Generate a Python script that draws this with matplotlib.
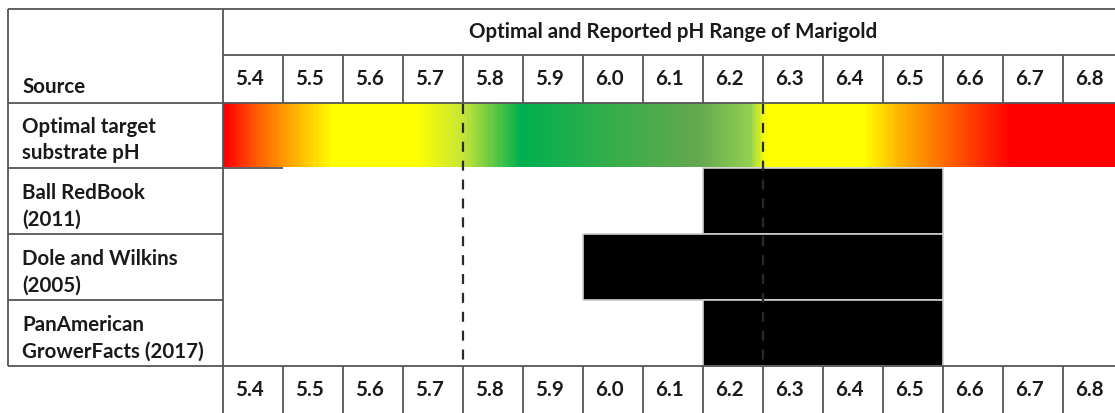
import matplotlib

matplotlib.use("Agg")
import matplotlib.pyplot as plt
import numpy as np
from matplotlib.colors import LinearSegmentedColormap

plt.rcParams["font.family"] = ["Lato", "DejaVu Sans"]

# ---------------------------------------------------------------- data
title = "Optimal and Reported pH Range of Marigold"
ph_ticks = [5.4, 5.5, 5.6, 5.7, 5.8, 5.9, 6.0, 6.1, 6.2, 6.3, 6.4, 6.5, 6.6, 6.7, 6.8]
tick_labels = [f"{v:.1f}" for v in ph_ticks]

optimal_label = "Optimal target\nsubstrate pH"
optimal_low, optimal_high = 5.8, 6.2

sources = ["Ball RedBook\n(2011)", "Dole and Wilkins\n(2005)", "PanAmerican\nGrowerFacts (2017)"]
range_low = [6.2, 6.0, 6.2]
range_high = [6.5, 6.5, 6.5]

# ---------------------------------------------------------------- layout
W, H = 1115, 413
CELL = 0.1                 # one table column = 0.1 pH
PX = CELL / 60             # pH units per pixel
x0 = ph_ticks[0]
x_left = x0 - 215 * PX     # outer left border of the source column
x_min = x0 - 223 * PX
x_max = x0 + (W - 223) * PX

y_top, y_title, y_head = 9, 55, 103
y_grad = 167
row_edges = [168, 234, 300, 366]
y_foot = 420

line_c = "#555555"
text_c = "#1a1a1a"
lw = 1.3

# gradient stops (pH, colour)
grad_stops = [
    (5.400, "#ff0000"), (5.450, "#ff5a00"), (5.515, "#ffb000"), (5.580, "#ffff00"),
    (5.720, "#ffff00"), (5.800, "#c4e43a"), (5.895, "#00b050"), (6.060, "#3aae4a"),
    (6.190, "#62a84f"), (6.280, "#92d050"), (6.305, "#ffff00"), (6.470, "#ffff00"),
    (6.530, "#ffb400"), (6.630, "#ff5000"), (6.715, "#ff0000"), (x_max, "#ff0000"),
]

fig = plt.figure(figsize=(W / 100, H / 100), dpi=100)
ax = fig.add_axes([0, 0, 1, 1])
ax.set_xlim(x_min, x_max)
ax.set_ylim(H, 0)
ax.axis("off")

# gradient row
pos = [(p - x0) / (x_max - x0) for p, _ in grad_stops]
cmap = LinearSegmentedColormap.from_list("ph", list(zip(pos, [c for _, c in grad_stops])))
ax.imshow(np.linspace(0, 1, 600)[None, :], cmap=cmap, aspect="auto",
          extent=(x0, x_max, y_grad, y_head), interpolation="bilinear", zorder=1)

# reported ranges
for i, (lo, hi) in enumerate(zip(range_low, range_high)):
    ax.fill_between([lo, hi + CELL], row_edges[i], row_edges[i + 1],
                    facecolor="black", edgecolor="#cfcfcf", linewidth=1.2, zorder=2)

# optimal range markers
for xv in (optimal_low, optimal_high + CELL):
    ax.plot([xv, xv], [y_head + 1, row_edges[-1]], color="#2a2a2a", lw=1.6,
            dashes=(4.5, 4), zorder=3)

# table lines
kw = dict(color=line_c, lw=lw, zorder=4, solid_capstyle="butt")
ax.plot([x_left, x_max], [y_top, y_top], **kw)
ax.plot([x0, x_max], [y_title, y_title], **kw)
ax.plot([x_left, x_max], [y_head, y_head], **kw)
ax.plot([x_left, x0 + CELL], [row_edges[0], row_edges[0]], **kw)
for y in row_edges[1:-1]:
    ax.plot([x_left, x0], [y, y], **kw)
ax.plot([x_left, x_max], [row_edges[-1], row_edges[-1]], **kw)
ax.plot([x_left, x_left], [y_top, row_edges[-1]], **kw)
ax.plot([x0, x0], [y_top, y_foot], **kw)
for v in ph_ticks[1:]:
    ax.plot([v, v], [y_title, y_head], **kw)
    ax.plot([v, v], [row_edges[-1], y_foot], **kw)

# text
tkw = dict(color=text_c, fontweight="bold", fontsize=14.8)
ax.text((x0 + x0 + len(ph_ticks) * CELL) / 2, 32, title, ha="center", va="center", **tkw)
for v, lab in zip(ph_ticks, tick_labels):
    ax.text(v + 12 * PX, 79, lab, ha="left", va="center", **tkw)
    ax.text(v + 12 * PX, 390, lab, ha="left", va="center", **tkw)

ax.text(x_left + 14 * PX, 93, "Source", ha="left", va="baseline", **tkw)
ax.text(x_left + 14 * PX, (y_head + y_grad) / 2 + 5, optimal_label, ha="left",
        va="center", linespacing=1.4, **tkw)
for i, lab in enumerate(sources):
    ax.text(x_left + 14 * PX, (row_edges[i] + row_edges[i + 1]) / 2 + 5, lab,
            ha="left", va="center", linespacing=1.4, **tkw)

fig.savefig("out.png", dpi=100)
